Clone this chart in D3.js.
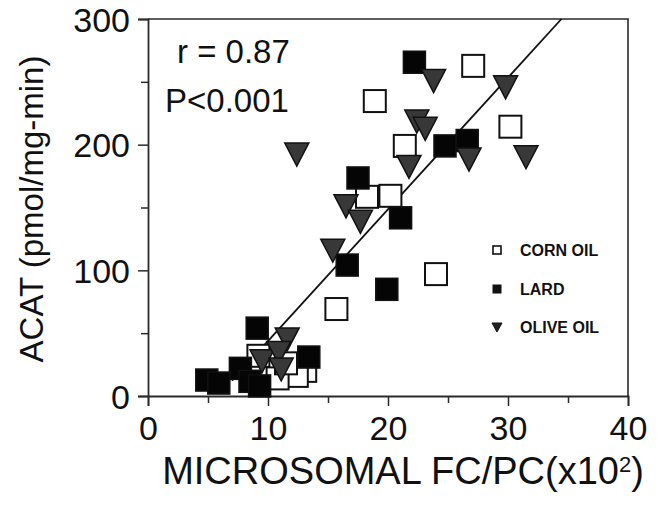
<!DOCTYPE html>
<html><head><meta charset="utf-8">
<script src="https://cdn.jsdelivr.net/npm/d3@7"></script>
<style>
html,body{margin:0;padding:0;background:#fff;}
svg{display:block;font-family:"Liberation Sans",Arial,Helvetica,sans-serif;}
</style></head>
<body>
<svg id="chart" width="663" height="514"></svg>
<script>
// ---- data ----
const cornOilX = [18.9, 27.1, 21.4, 30.2, 18.25, 20.2, 24.0, 15.7, 9.2, 13.1, 12.4, 10.8, 11.5];
const cornOilY = [234.7, 262.7, 199, 214.3, 158.5, 159.3, 97, 69.2, 32, 20, 16, 14, 26];
const lardX = [22.2, 24.75, 26.6, 17.5, 21.05, 16.6, 19.9, 9.1, 7.7, 4.9, 5.9, 8.5, 13.4, 9.3];
const lardY = [265.6, 199, 203.3, 173.5, 141.8, 104.2, 84.9, 54, 22, 12.7, 10.3, 11.7, 31, 8];
const oliveOilX = [23.8, 29.8, 22.4, 23.1, 21.75, 26.75, 31.5, 12.4, 16.5, 17.7, 15.4, 11.6, 9.5, 10.9, 11.1];
const oliveOilY = [251, 246, 218.8, 213, 182.7, 188.5, 190.4, 192.5, 151.3, 139, 116, 45.4, 28, 34.7, 21.5];
const fitLineX = [7.0, 34.45];
const fitLineY = [12.3, 300];
const xTicks = [0, 10, 20, 30, 40];
const xMinorTicks = [5, 15, 25, 35];
const yTicks = [0, 100, 200, 300];
const yMinorTicks = [50, 150, 250];
const legendLabels = ["CORN OIL", "LARD", "OLIVE OIL"];
const statLines = ["r = 0.87", "P<0.001"];
const xTitle = "MICROSOMAL FC/PC(x10";
const yTitle = "ACAT (pmol/mg-min)";

// ---- layout ----
const svg = d3.select("#chart");
const L = 148, R = 628, T = 19, B = 396;
const x = d3.scaleLinear().domain([0, 40]).range([L, R]);
const y = d3.scaleLinear().domain([0, 300]).range([B, T]);
const axisColor = "#2a2a2a";

// box (top and right)
svg.append("path")
  .attr("d", `M${L},${T}H${R}V${B}`)
  .attr("fill", "none").attr("stroke", axisColor).attr("stroke-width", 1.6);

// axes
const xAxis = svg.append("g").attr("transform", `translate(0,${B})`)
  .call(d3.axisBottom(x).tickValues(xTicks).tickSize(10).tickPadding(10).tickFormat(d3.format("d")));
const xMinor = svg.append("g").attr("transform", `translate(0,${B})`)
  .call(d3.axisBottom(x).tickValues(xMinorTicks).tickSize(7).tickFormat(""));
const yAxis = svg.append("g").attr("transform", `translate(${L},0)`)
  .call(d3.axisLeft(y).tickValues(yTicks).tickSize(10).tickPadding(8).tickFormat(d3.format("d")));
const yMinor = svg.append("g").attr("transform", `translate(${L},0)`)
  .call(d3.axisLeft(y).tickValues(yMinorTicks).tickSize(7).tickFormat(""));
[xAxis, xMinor, yAxis, yMinor].forEach(g => {
  g.select(".domain").attr("stroke", axisColor).attr("stroke-width", 1.8);
  g.selectAll(".tick line").attr("stroke", axisColor).attr("stroke-width", 1.5);
  g.selectAll(".tick text").attr("font-size", 34).attr("fill", "#111")
    .attr("font-family", "'Liberation Sans',Arial,sans-serif");
});
xMinor.select(".domain").remove();
yMinor.select(".domain").remove();
xAxis.selectAll(".tick text").attr("dy", "0.71em");
yAxis.selectAll(".tick text").attr("dy", "0.36em");

// fit line
svg.append("line")
  .attr("x1", x(fitLineX[0])).attr("y1", y(fitLineY[0]))
  .attr("x2", x(fitLineX[1])).attr("y2", y(fitLineY[1]))
  .attr("stroke", "#111").attr("stroke-width", 1.8);

// markers
const S = 22;
const tri = (s) => `M${-s/2},${-s/2+1}L${s/2},${-s/2+1}L0,${s/2}Z`;
const g = svg.append("g");
g.selectAll(".corn").data(d3.zip(cornOilX, cornOilY)).join("rect")
  .attr("x", d => x(d[0]) - S/2).attr("y", d => y(d[1]) - S/2)
  .attr("width", S).attr("height", S)
  .attr("fill", "#fff").attr("stroke", "#111").attr("stroke-width", 2);
g.selectAll(".lard").data(d3.zip(lardX, lardY)).join("rect")
  .attr("x", d => x(d[0]) - S/2).attr("y", d => y(d[1]) - S/2)
  .attr("width", S).attr("height", S)
  .attr("fill", "#050505").attr("stroke", "#111").attr("stroke-width", 1.5);
g.selectAll(".olive").data(d3.zip(oliveOilX, oliveOilY)).join("path")
  .attr("transform", d => `translate(${x(d[0])},${y(d[1])})`)
  .attr("d", tri(24))
  .attr("fill", "#383838").attr("stroke", "#111").attr("stroke-width", 1.5);

// stats text
svg.append("text").attr("x", 177).attr("y", 63).attr("font-size", 33).attr("fill", "#111").text(statLines[0]);
svg.append("text").attr("x", 165).attr("y", 112).attr("font-size", 33).attr("fill", "#111").text(statLines[1]);

// legend
const legY = [250, 289, 327];
const lg = svg.append("g");
legendLabels.forEach((lab, i) => {
  const cx = 497, cy = legY[i];
  if (i === 0) lg.append("rect").attr("x", cx-4).attr("y", cy-4).attr("width", 8).attr("height", 8)
    .attr("fill", "#fff").attr("stroke", "#111").attr("stroke-width", 1.6);
  else if (i === 1) lg.append("rect").attr("x", cx-4.5).attr("y", cy-4.5).attr("width", 9).attr("height", 9)
    .attr("fill", "#111");
  else lg.append("path").attr("transform", `translate(${cx},${cy})`).attr("d", tri(10))
    .attr("fill", "#222").attr("stroke", "#111").attr("stroke-width", 1);
  lg.append("text").attr("x", 520).attr("y", cy).attr("dy", "0.36em")
    .attr("font-size", 16).attr("font-weight", "bold").attr("fill", "#111").text(lab);
});

// axis titles
const xt = svg.append("text").attr("x", 403).attr("y", 484).attr("text-anchor", "middle")
  .attr("font-size", 38).attr("fill", "#111");
xt.append("tspan").text(xTitle);
xt.append("tspan").attr("font-size", 22).attr("dy", -12).text("2");
xt.append("tspan").attr("dy", 12).text(")");
svg.append("text").attr("transform", "translate(43,209) rotate(-90)")
  .attr("text-anchor", "middle").attr("font-size", 33).attr("fill", "#111").text(yTitle);
</script>
</body></html>
